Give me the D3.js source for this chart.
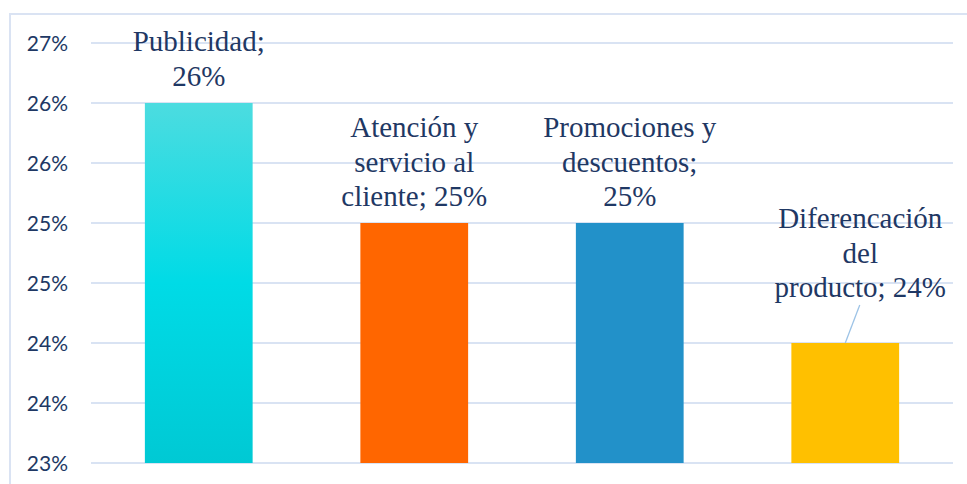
<!DOCTYPE html>
<html><head><meta charset="utf-8">
<script src="https://cdn.jsdelivr.net/npm/d3@7"></script>
<style>html,body{margin:0;padding:0;background:#fff;}svg{display:block;}
.dl{font-family:"Liberation Serif","Times New Roman",Times,serif;}
.tk{font-family:Lato,"Open Sans",sans-serif;}
</style>
</head><body>
<svg id="c" width="967" height="484"></svg>
<script>
const categories = ["Publicidad", "Atención y servicio al cliente", "Promociones y descuentos", "Diferencación del producto"];
const values = [26, 25, 25, 24];
const labelLines = [
  ["Publicidad;", "26%"],
  ["Atención y", "servicio al", "cliente; 25%"],
  ["Promociones y", "descuentos;", "25%"],
  ["Diferencación", "del", "producto; 24%"]
];
const tickValues = [23, 23.5, 24, 24.5, 25, 25.5, 26, 26.5];
const tickLabels = ["23%", "24%", "24%", "25%", "25%", "26%", "26%", "27%"];
const colors = ["url(#gradCyan)", "#ff6600", "#2291c9", "#ffc000"];

const svg = d3.select("#c");
const defs = svg.append("defs");
const g1 = defs.append("linearGradient").attr("id", "gradCyan").attr("x1", 0).attr("y1", 0).attr("x2", 0).attr("y2", 1);
g1.append("stop").attr("offset", "0%").attr("stop-color", "#4cdce0");
g1.append("stop").attr("offset", "50%").attr("stop-color", "#00dbe6");
g1.append("stop").attr("offset", "100%").attr("stop-color", "#00c9d4");

// chart border
svg.append("path").attr("d", "M10,484 L10,14 L967,14")
  .attr("fill", "none").attr("stroke", "#dae3f3").attr("stroke-width", 2);

const x = d3.scaleBand().domain(categories).range([91, 953]).paddingInner(0.5).paddingOuter(0.25);
const y = d3.scaleLinear().domain([23, 26.5]).range([463, 43]);

// gridlines
svg.append("g").selectAll("line").data(tickValues).join("line")
  .attr("x1", 91).attr("x2", 953)
  .attr("y1", d => y(d)).attr("y2", d => y(d))
  .attr("stroke", "#d9e3f3").attr("stroke-width", 2);

// y tick labels
const yAxis = d3.axisLeft(y).tickValues(tickValues).tickFormat((d, i) => tickLabels[i]).tickSize(0).tickPadding(0);
const ya = svg.append("g").attr("transform", "translate(68,0)").call(yAxis);
ya.select(".domain").remove();
ya.attr("font-family", null).attr("font-size", null);
ya.selectAll("text").attr("class", "tk").style("font-size", "21px")
  .attr("fill", "#203864").attr("dy", "0.35em");

// bars
svg.append("g").selectAll("rect").data(categories).join("rect")
  .attr("x", d => x(d)).attr("width", x.bandwidth())
  .attr("y", (d, i) => y(values[i])).attr("height", (d, i) => y(23) - y(values[i]))
  .attr("fill", (d, i) => colors[i]);

// data labels
const labelPos = [
  { dx: 0, base: 51 },
  { dx: 0, base: 137 },
  { dx: 0, base: 137 },
  { dx: 15, base: 228 }
];
const lh = 34.5;
categories.forEach((c, i) => {
  const cx = x(c) + x.bandwidth() / 2 + labelPos[i].dx;
  const t = svg.append("text").attr("class", "dl").attr("text-anchor", "middle")
    .style("font-size", "29px").attr("fill", "#1f3864");
  labelLines[i].forEach((ln, j) => {
    t.append("tspan").attr("x", cx).attr("y", labelPos[i].base + j * lh).text(ln);
  });
});

// leader line for last label
const lc = categories[3];
const bx = x(lc) + x.bandwidth() / 2;
svg.append("line").attr("x1", bx + 14.5).attr("y1", 305).attr("x2", bx).attr("y2", y(values[3]))
  .attr("stroke", "#9dc3e6").attr("stroke-width", 1.3);
</script>
</body></html>
